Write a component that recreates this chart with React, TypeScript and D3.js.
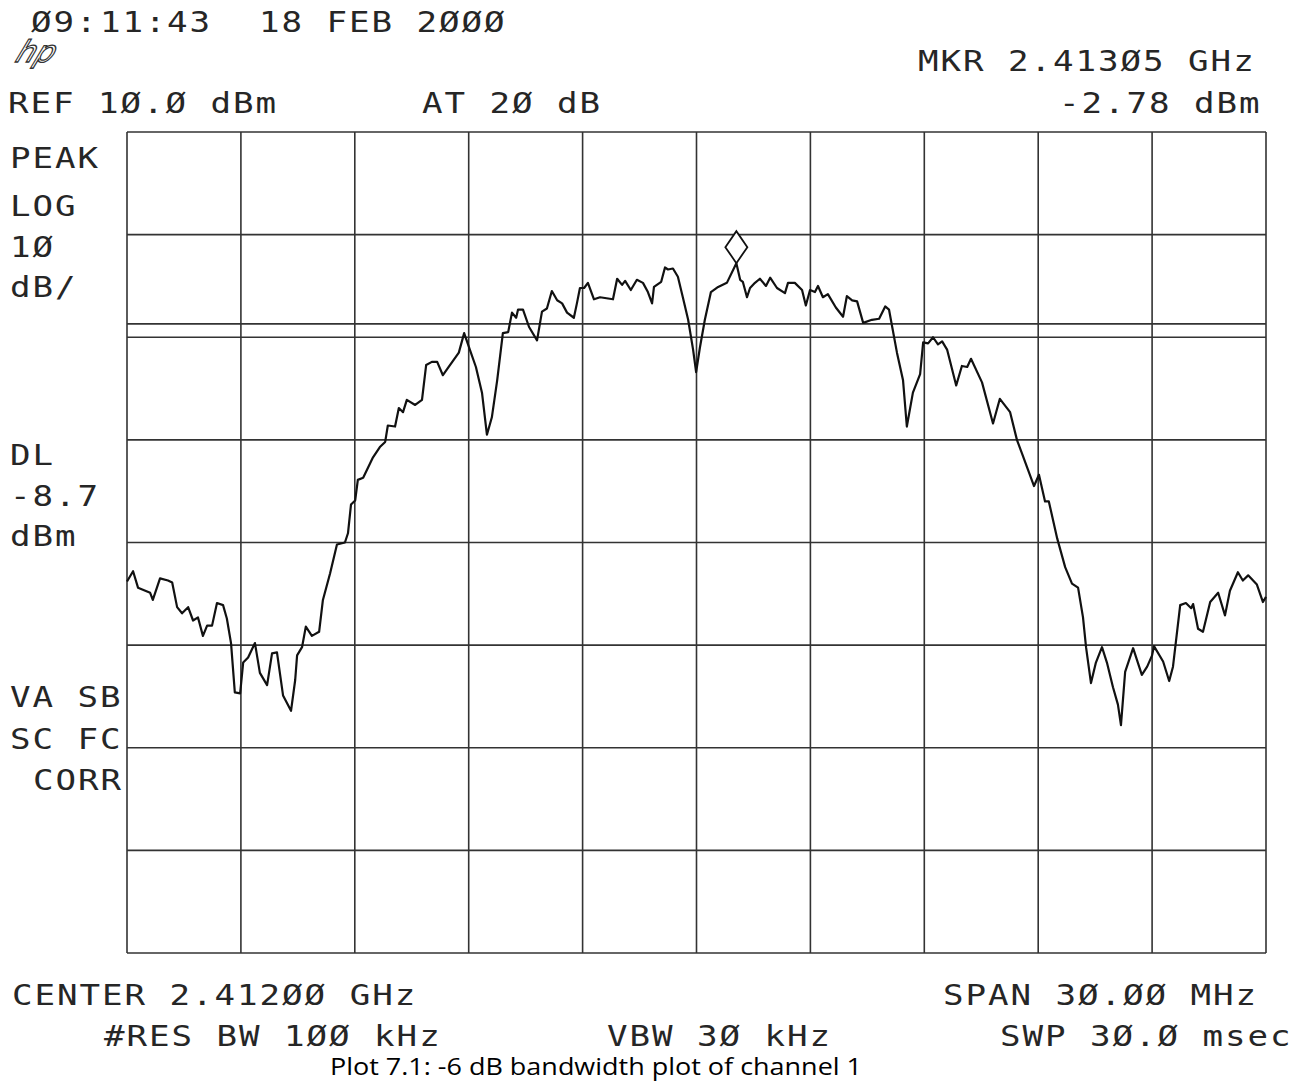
import React, { useEffect, useRef } from 'react';
import * as d3 from 'd3';

// trace: [frequency MHz, level dBm]
const trace: [number, number][] = [
  [2397.00, -33.8], [2397.16, -32.8], [2397.29, -34.4], [2397.61, -34.9], [2397.68, -35.6],
  [2397.87, -33.5], [2398.08, -33.7], [2398.19, -33.9], [2398.32, -36.3], [2398.45, -36.9],
  [2398.61, -36.3], [2398.74, -37.6], [2398.87, -37.3], [2399.00, -39.1], [2399.11, -38.1],
  [2399.24, -38.1], [2399.37, -35.9], [2399.53, -36.1], [2399.63, -37.4], [2399.74, -39.8],
  [2399.84, -44.6], [2399.98, -44.7], [2400.06, -41.7], [2400.19, -41.2], [2400.37, -39.8],
  [2400.50, -42.7], [2400.69, -43.9], [2400.82, -40.8], [2400.95, -40.7], [2401.11, -44.9],
  [2401.32, -46.4], [2401.43, -43.4], [2401.48, -41.0], [2401.61, -40.2], [2401.71, -38.2],
  [2401.87, -39.1], [2402.06, -38.7], [2402.16, -35.6], [2402.35, -33.0], [2402.53, -30.2],
  [2402.74, -30.0], [2402.82, -29.1], [2402.90, -26.3], [2403.01, -25.9], [2403.08, -23.9],
  [2403.22, -23.7], [2403.35, -22.7], [2403.48, -21.7], [2403.66, -20.7], [2403.80, -20.2],
  [2403.87, -18.6], [2404.06, -18.7], [2404.16, -16.9], [2404.27, -17.3], [2404.37, -16.1],
  [2404.59, -16.6], [2404.77, -16.1], [2404.88, -12.7], [2405.03, -12.4], [2405.17, -12.4],
  [2405.32, -13.7], [2405.45, -13.0], [2405.74, -11.5], [2405.88, -9.6], [2406.03, -11.2],
  [2406.19, -12.9], [2406.35, -15.4], [2406.48, -19.5], [2406.61, -17.8], [2406.75, -14.2],
  [2406.90, -9.6], [2407.04, -9.5], [2407.14, -7.6], [2407.25, -8.1], [2407.30, -7.3],
  [2407.43, -7.3], [2407.59, -9.0], [2407.80, -10.3], [2407.93, -7.5], [2408.06, -7.2],
  [2408.19, -5.5], [2408.33, -6.4], [2408.46, -6.7], [2408.59, -7.6], [2408.77, -8.1],
  [2408.85, -6.7], [2408.93, -5.2], [2409.04, -5.2], [2409.14, -4.7], [2409.30, -6.3],
  [2409.46, -6.1], [2409.80, -6.3], [2409.91, -4.3], [2410.04, -4.9], [2410.12, -4.5],
  [2410.27, -5.4], [2410.43, -4.4], [2410.59, -4.7], [2410.72, -5.6], [2410.83, -6.7],
  [2410.88, -5.1], [2411.07, -4.6], [2411.17, -3.2], [2411.25, -3.4], [2411.38, -3.3],
  [2411.51, -4.1], [2411.64, -6.1], [2411.78, -8.3], [2411.91, -11.2], [2411.99, -13.4],
  [2412.09, -11.0], [2412.22, -8.3], [2412.38, -5.6], [2412.57, -5.1], [2412.80, -4.7],
  [2413.05, -2.78], [2413.15, -4.4], [2413.22, -4.6], [2413.33, -6.1], [2413.41, -5.2],
  [2413.54, -4.7], [2413.67, -4.3], [2413.83, -5.0], [2413.94, -4.2], [2414.12, -5.2],
  [2414.33, -5.7], [2414.41, -4.7], [2414.59, -4.7], [2414.78, -5.4], [2414.88, -6.9],
  [2414.99, -5.4], [2415.12, -5.6], [2415.20, -5.0], [2415.33, -6.1], [2415.46, -5.8],
  [2415.67, -7.1], [2415.86, -8.0], [2415.96, -6.0], [2416.10, -6.4], [2416.23, -6.5],
  [2416.39, -8.6], [2416.62, -8.3], [2416.81, -8.2], [2416.97, -7.0], [2417.07, -7.3],
  [2417.28, -11.5], [2417.44, -14.2], [2417.54, -18.7], [2417.70, -15.4], [2417.89, -13.6],
  [2417.97, -10.5], [2418.10, -10.6], [2418.23, -10.0], [2418.36, -10.7], [2418.47, -10.4],
  [2418.60, -11.2], [2418.84, -14.7], [2418.99, -12.8], [2419.13, -12.9], [2419.23, -12.1],
  [2419.52, -14.4], [2419.81, -18.4], [2419.99, -16.0], [2420.26, -17.3], [2420.44, -20.0],
  [2420.57, -21.3], [2420.73, -22.9], [2420.89, -24.5], [2421.02, -23.4], [2421.18, -26.0],
  [2421.28, -26.0], [2421.50, -29.6], [2421.71, -32.4], [2421.89, -34.0], [2422.05, -34.4],
  [2422.18, -37.3], [2422.26, -40.2], [2422.39, -43.7], [2422.52, -41.7], [2422.68, -40.2],
  [2422.81, -41.7], [2422.97, -44.1], [2423.10, -45.8], [2423.18, -47.8], [2423.29, -42.6],
  [2423.50, -40.3], [2423.73, -42.9], [2423.87, -42.1], [2424.00, -41.0], [2424.05, -40.1],
  [2424.29, -41.6], [2424.45, -43.5], [2424.55, -42.1], [2424.74, -36.1], [2424.89, -35.9],
  [2425.03, -36.4], [2425.08, -36.0], [2425.21, -38.4], [2425.34, -38.7], [2425.53, -35.8],
  [2425.74, -34.9], [2425.92, -37.1], [2426.05, -34.7], [2426.26, -32.9], [2426.39, -33.7],
  [2426.53, -33.2], [2426.76, -34.1], [2426.92, -35.8], [2427.00, -35.3],
];

const startMHz = 2397;
const stopMHz = 2427;
const hDivs = 10;
const refLevel = 10;
const dbPerDiv = 10;
const vDivs = 8;
const displayLine = -8.7;
const marker = { freq: 2413.05, level: -2.78 };

// annotation texts
const leftLabels = ['PEAK', 'LOG', '1Ø', 'dB/', 'DL', '-8.7', 'dBm', 'VA SB', 'SC FC', 'CORR'];
const leftLabelY = [168, 216, 257, 297, 465, 506, 546, 707, 749, 790];
const leftLabelX = [10, 10, 10, 10, 10, 10, 10, 10, 10, 33];
const timeParts = ['Ø9:', '11:', '43', '18 FEB 2ØØØ'];
const timeX = [31, 100, 167, 259];

const W = 1295;
const H = 1081;

const App = () => {
  const svgRef = useRef<SVGSVGElement>(null);

  useEffect(() => {
    const svg = d3.select(svgRef.current);
    svg.selectAll('*').remove();

    const plot = { left: 127, right: 1266, top: 132, bottom: 953 };

    const x = d3.scaleLinear().domain([startMHz, stopMHz]).range([plot.left, plot.right]);
    const y = d3.scaleLinear()
      .domain([refLevel, refLevel - dbPerDiv * vDivs])
      .range([plot.top, plot.bottom]);

    svg.append('rect').attr('width', W).attr('height', H).attr('fill', '#fff');

    // graticule
    const xLines = d3.range(hDivs + 1).map(i => startMHz + i * (stopMHz - startMHz) / hDivs);
    const yLines = d3.range(vDivs + 1).map(i => refLevel - i * dbPerDiv);
    const grid = svg.append('g').attr('stroke', '#333').attr('stroke-width', 1.6);
    grid.selectAll('line.v').data(xLines).enter().append('line')
      .attr('x1', d => x(d)).attr('x2', d => x(d))
      .attr('y1', plot.top).attr('y2', plot.bottom);
    grid.selectAll('line.h').data(yLines).enter().append('line')
      .attr('x1', plot.left).attr('x2', plot.right)
      .attr('y1', d => y(d)).attr('y2', d => y(d));

    // display line
    svg.append('line')
      .attr('x1', plot.left).attr('x2', plot.right)
      .attr('y1', y(displayLine)).attr('y2', y(displayLine))
      .attr('stroke', '#333').attr('stroke-width', 1.6);

    // trace
    const line = d3.line<[number, number]>()
      .x(d => x(d[0]))
      .y(d => y(d[1]));
    svg.append('path')
      .datum(trace)
      .attr('fill', 'none')
      .attr('stroke', '#111')
      .attr('stroke-width', 2.2)
      .attr('stroke-linejoin', 'round')
      .attr('d', line);

    // marker diamond sitting on the peak
    const mx = x(marker.freq);
    const my = y(marker.level);
    svg.append('path')
      .attr('d', `M${mx},${my} L${mx + 11},${my - 16} L${mx},${my - 32} L${mx - 11},${my - 16} Z`)
      .attr('fill', '#fff')
      .attr('stroke', '#111')
      .attr('stroke-width', 1.8);

    // plotter text: wide mono glyphs on a 22.5px pitch
    const hp = (str: string, px: number, py: number) =>
      svg.append('text')
        .attr('transform', `translate(${px},${py}) scale(1.22,1)`)
        .attr('font-family', '"DejaVu Sans Mono", monospace')
        .attr('font-size', 28)
        .attr('letter-spacing', 1.6)
        .attr('fill', '#262626')
        .style('white-space', 'pre')
        .text(str);

    timeParts.forEach((t, i) => hp(t, timeX[i], 32));

    // hp logo
    svg.append('text')
      .attr('transform', 'translate(14,62) skewX(-22)')
      .attr('font-family', '"DejaVu Sans", sans-serif')
      .attr('font-style', 'italic')
      .attr('font-size', 30)
      .attr('fill', 'none')
      .attr('stroke', '#333')
      .attr('stroke-width', 1.3)
      .text('hp');

    hp('MKR 2.413Ø5 GHz', 918, 71);
    hp('REF 1Ø.Ø dBm', 8, 113);
    hp('AT 2Ø dB', 422, 113);
    hp('-2.78 dBm', 1059, 113);

    leftLabels.forEach((t, i) => hp(t, leftLabelX[i], leftLabelY[i]));

    hp('CENTER 2.412ØØ GHz', 12, 1005);
    hp('SPAN 3Ø.ØØ MHz', 943, 1005);
    hp('#RES BW 1ØØ kHz', 104, 1046);
    hp('VBW 3Ø kHz', 607, 1046);
    hp('SWP 3Ø.Ø msec', 1000, 1046);

    svg.append('text')
      .attr('x', 330).attr('y', 1075)
      .attr('font-family', '"Open Sans", sans-serif')
      .attr('font-size', 24)
      .attr('font-weight', 500)
      .attr('textLength', 532)
      .attr('lengthAdjust', 'spacingAndGlyphs')
      .attr('fill', '#000')
      .text('Plot 7.1: -6 dB bandwidth plot of channel 1');
  }, []);

  return (
    <svg
      ref={svgRef}
      width={W}
      height={H}
      style={{ position: 'absolute', left: 0, top: 0 }}
    />
  );
};

export default App;
